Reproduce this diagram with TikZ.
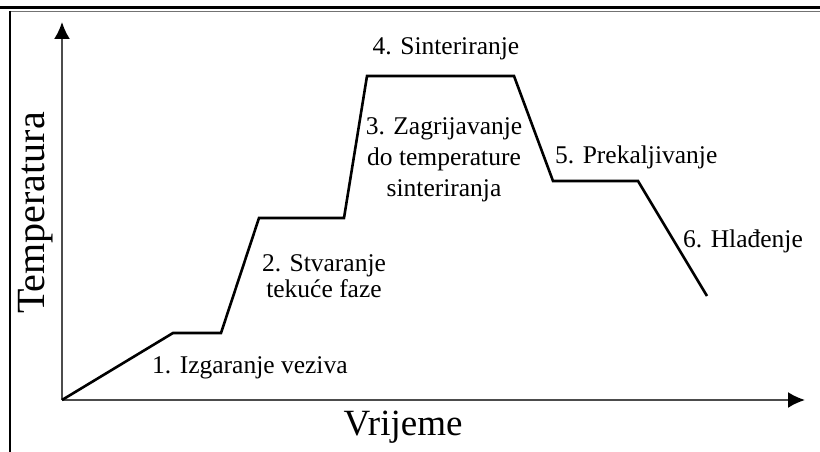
\documentclass[tikz,border=0pt]{standalone}
\usepackage{fontspec}
\setmainfont{Liberation Serif}
\usetikzlibrary{arrows.meta}

\tikzset{
  faza/.style={inner sep=0pt, font=\fontsize{25.5}{26}\selectfont},
  os/.style={line width=2pt, black!70, -{Latex[length=17pt,width=16pt,black]}},
  krivulja/.style={line width=2.6pt, line join=miter}
}

\begin{document}
\begin{tikzpicture}[x=1pt,y=-1pt]
\useasboundingbox (0,0) rectangle (820,452);

% okvir
\draw [line width=2.6pt] (0,7.5) -- (820,7.5);
\draw [line width=1.6pt, black!55] (10,11.5) -- (820,11.5);
\draw [line width=1.6pt] (10,11) -- (10,452);

% osi
\coordinate (o) at (62,400);
\coordinate (ty) at (62,22);
\coordinate (tx) at (805,400);

\draw [os] (o) -- (ty);
\draw [os] (o) -- (tx);

\node (temp) at (45,213) [anchor=base, rotate=90, inner sep=0pt, font=\fontsize{40}{40}\selectfont]{Temperatura};
\node (vrij) at (403,435) [anchor=base, inner sep=0pt, font=\fontsize{37}{37}\selectfont]{Vrijeme};

% tocke krivulje
\coordinate (p1) at (173,333);
\coordinate (p2) at (221,333);
\coordinate (p3) at (259,218);
\coordinate (p4) at (344,218);
\coordinate (p5) at (367,76);
\coordinate (p6) at (514,76);
\coordinate (p7) at (553,181);
\coordinate (p8) at (638,181);
\coordinate (p9) at (707,296);

\draw [krivulja] (o) -- (p1) -- (p2) -- (p3) -- (p4) -- (p5) -- (p6) -- (p7) -- (p8) -- (p9);

% faze
\node (f1) at (152,373) [faza, anchor=base west]{1. Izgaranje veziva};
\node (f2) at (324,297) [faza, anchor=base, align=center]{2. Stvaranje\\tekuće faze};
\node (f3) at (444,196) [faza, anchor=base, align=center, font=\fontsize{25.5}{31}\selectfont]{3. Zagrijavanje\\do temperature\\sinteriranja};
\node (f4) at (446,55) [faza, anchor=base]{4. Sinteriranje};
\node (f5) at (555,163) [faza, anchor=base west]{5. Prekaljivanje};
\node (f6) at (683,247) [faza, anchor=base west]{6. Hlađenje};

\end{tikzpicture}
\end{document}
